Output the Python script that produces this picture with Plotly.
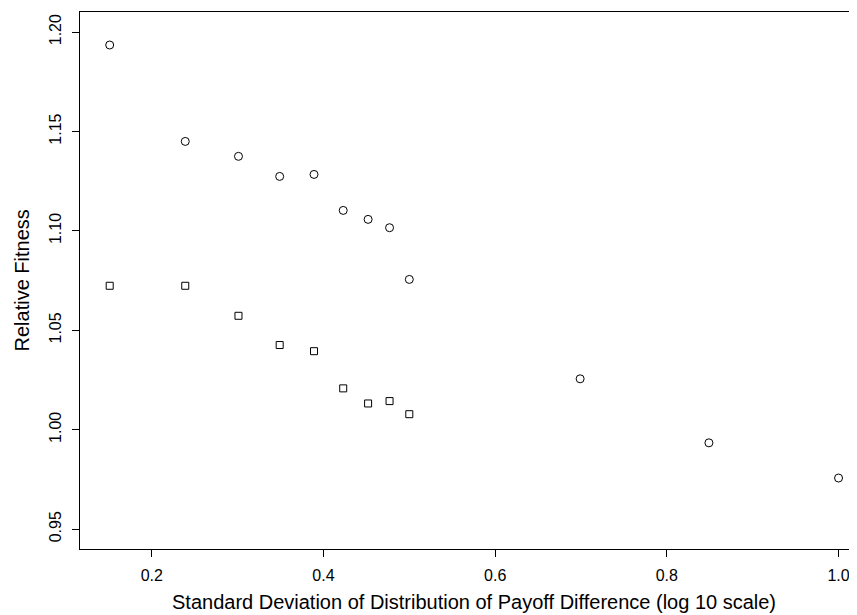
import plotly.graph_objects as go

# x: standard deviation of payoff difference (log10 scale)
sd_log10 = [0.151, 0.239, 0.301, 0.349, 0.389, 0.423, 0.452, 0.477, 0.500, 0.699, 0.849, 1.000]
fitness_circles = [1.1935, 1.1450, 1.1375, 1.1274, 1.1284, 1.1103, 1.1058, 1.1016, 1.0756, 1.0256, 0.9934, 0.9757]

sd_log10_sq = [0.151, 0.239, 0.301, 0.349, 0.389, 0.423, 0.452, 0.477, 0.500]
fitness_squares = [1.0724, 1.0724, 1.0573, 1.0426, 1.0395, 1.0208, 1.0132, 1.0144, 1.0078]

x_ticks = [0.2, 0.4, 0.6, 0.8, 1.0]
x_ticklabels = ["0.2", "0.4", "0.6", "0.8", "1.0"]
y_ticks = [0.95, 1.00, 1.05, 1.10, 1.15, 1.20]
y_ticklabels = ["0.95", "1.00", "1.05", "1.10", "1.15", "1.20"]

FONT = "Liberation Sans, Arial, Helvetica, sans-serif"

fig = go.Figure()
fig.add_trace(go.Scatter(
    x=sd_log10, y=fitness_circles, mode="markers",
    marker=dict(symbol="circle", size=8, color="rgba(0,0,0,0)",
                line=dict(color="black", width=1)),
    showlegend=False, hoverinfo="skip"))
fig.add_trace(go.Scatter(
    x=sd_log10_sq, y=fitness_squares, mode="markers",
    marker=dict(symbol="square", size=7, color="rgba(0,0,0,0)",
                line=dict(color="black", width=1)),
    showlegend=False, hoverinfo="skip"))

# page body has an 8px margin, so the figure is sized/offset to compensate
x0, x1 = 0.1164, 1.0215
fig.update_layout(
    width=849, height=607,
    margin=dict(l=72, r=0, t=4, b=66),
    paper_bgcolor="white", plot_bgcolor="white",
    font=dict(family=FONT, color="black", size=16),
    xaxis=dict(range=[x0, x1], tickvals=x_ticks, ticktext=x_ticklabels,
               showgrid=False, zeroline=False, showline=True, mirror=True,
               linecolor="black", linewidth=1, ticks="outside", ticklen=7,
               tickcolor="black", tickwidth=1, tickfont=dict(size=16),
               ticklabelstandoff=5),
    yaxis=dict(range=[0.94, 1.2101], tickvals=y_ticks, ticktext=y_ticklabels,
               showgrid=False, zeroline=False, showline=True, mirror=False,
               linecolor="black", linewidth=1, ticks="outside", ticklen=7,
               tickcolor="black", tickwidth=1, tickangle=-90,
               tickfont=dict(size=16), ticklabelstandoff=5),
)

fig.add_annotation(text="Standard Deviation of Distribution of Payoff Difference (log 10 scale)",
                   xref="x", yref="paper", x=0.575, y=0, yshift=-53,
                   showarrow=False, font=dict(size=20, family=FONT),
                   xanchor="center", yanchor="middle")
fig.add_annotation(text="Relative Fitness", textangle=-90,
                   xref="paper", yref="paper", x=0, y=0.5, xshift=-59,
                   showarrow=False, font=dict(size=20, family=FONT),
                   xanchor="center", yanchor="middle")

fig.write_html("out.html")
